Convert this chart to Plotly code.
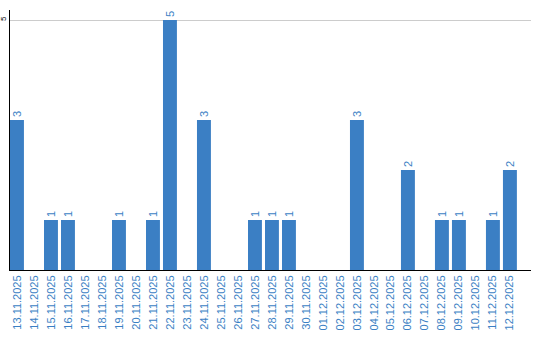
import plotly.graph_objects as go

dates = ["13.11.2025", "14.11.2025", "15.11.2025", "16.11.2025", "17.11.2025", "18.11.2025",
         "19.11.2025", "20.11.2025", "21.11.2025", "22.11.2025", "23.11.2025", "24.11.2025",
         "25.11.2025", "26.11.2025", "27.11.2025", "28.11.2025", "29.11.2025", "30.11.2025",
         "01.12.2025", "02.12.2025", "03.12.2025", "04.12.2025", "05.12.2025", "06.12.2025",
         "07.12.2025", "08.12.2025", "09.12.2025", "10.12.2025", "11.12.2025", "12.12.2025"]
counts = [3, 0, 1, 1, 0, 0, 1, 0, 1, 5, 0, 3, 0, 0, 1, 1, 1, 0, 0, 0, 3, 0, 0, 2, 0, 1, 1, 0, 1, 2]

labels = [str(v) if v > 0 else "" for v in counts]

blue = "#3b7fc4"
fig = go.Figure(go.Bar(
    x=dates, y=counts, marker_color=blue, marker_line_width=0,
    text=labels, textposition="outside", textangle=-90,
    textfont=dict(family="Liberation Sans, Arial", size=11, color=blue),
    cliponaxis=False,
))
fig.update_layout(
    width=540, height=340,
    margin=dict(l=10, r=9, t=10, b=70, autoexpand=False),
    paper_bgcolor="white", plot_bgcolor="white",
    bargap=0.18, showlegend=False,
    font=dict(family="Liberation Sans, Arial", size=11),
)
fig.update_xaxes(
    type="category", range=[-0.41, 30.24], tickangle=-90, automargin=False,
    tickfont=dict(color=blue, size=11), showline=True, linecolor="black", linewidth=1,
    showgrid=False, ticks="", ticklen=0,
)
fig.update_yaxes(
    range=[0, 5.2], tickvals=[5], tickangle=-90, tickfont=dict(color="black", size=8),
    showline=True, linecolor="black", linewidth=1, showgrid=True, gridcolor="#cccccc",
    zeroline=False, ticks="", automargin=False, ticklabelstandoff=0,
)
fig.write_html("out.html")
